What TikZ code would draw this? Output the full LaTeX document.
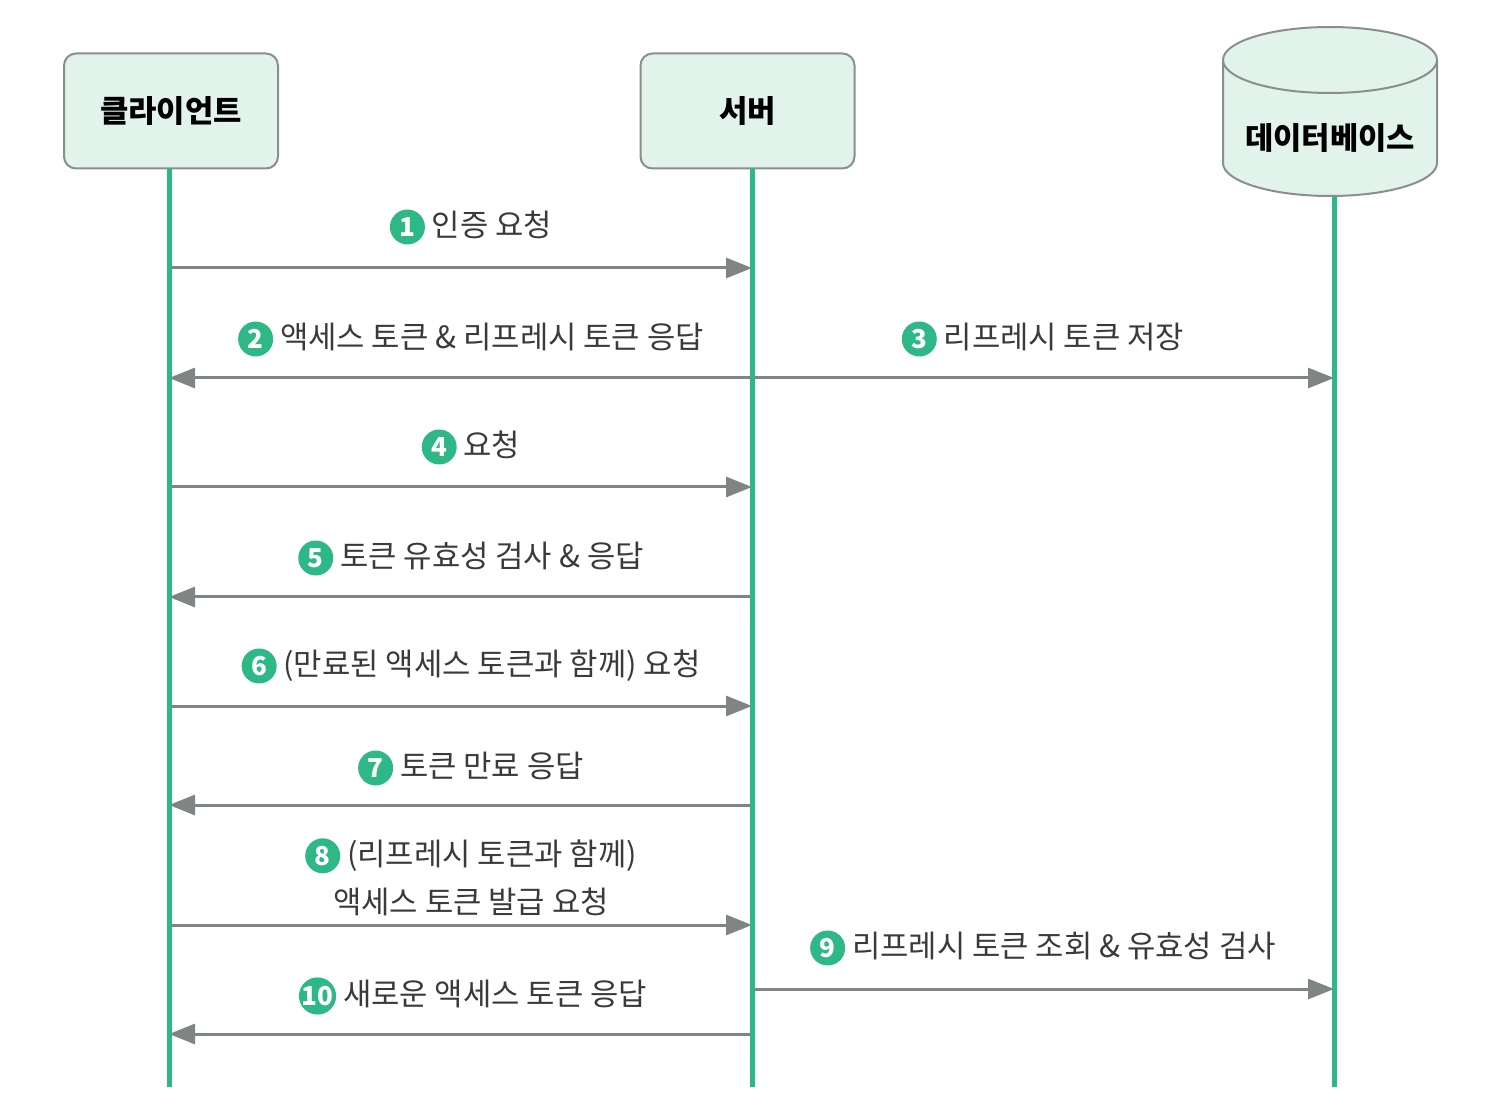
\documentclass[tikz,border=0pt]{standalone}
\usepackage{fontspec}
\setmainfont{Noto Sans CJK KR}
\usetikzlibrary{arrows.meta}

\definecolor{mint}{HTML}{2EB886}
\definecolor{boxfill}{HTML}{E1F3EA}
\definecolor{boxline}{HTML}{8A8F8D}
\definecolor{msggray}{HTML}{7F8583}
\definecolor{txt}{HTML}{3A3A3A}

% numbered green badge
\newcommand{\stepnum}[1]{\tikz[baseline=(n.base)]\node[circle,fill=mint,text=white,inner sep=0pt,minimum size=17.5pt,font=\bfseries\fontsize{13}{13}\selectfont](n){#1};}

\begin{document}
\begin{tikzpicture}[x=0.5pt,y=-0.5pt,
  box/.style={draw=boxline,fill=boxfill,line width=1pt,rounded corners=6pt,
    minimum width=107pt,minimum height=57.5pt,inner sep=0pt,
    font=\bfseries\fontsize{15.4}{15.4}\selectfont},
  life/.style={draw=mint,line width=2.5pt},
  msg/.style={draw=msggray,line width=1.5pt,-{Triangle[length=13pt,width=10pt]}},
  lbl/.style={text=txt,font=\fontsize{15.4}{24}\selectfont,align=center,inner sep=0pt}]
\useasboundingbox (0,0) rectangle (1506,1112);

% Participants
\node[box] (client) at (171,111) {클라이언트};
\node[box] (server) at (747.5,111) {서버};

% Database cylinder
\fill[boxfill] (1223,60) rectangle (1437,163);
\fill[boxfill] (1330,163) ellipse [x radius=107, y radius=33];
\draw[boxline,line width=1pt] (1223,60) -- (1223,163)
  arc[start angle=180, end angle=0, x radius=107, y radius=33] -- (1437,60);
\draw[boxline,line width=1pt,fill=boxfill] (1330,60) ellipse [x radius=107, y radius=33];
\node[font=\bfseries\fontsize{15.4}{15.4}\selectfont] (db) at (1330,138) {데이터베이스};

% Lifeline end points
\coordinate (cl) at (169,168);
\coordinate (cl-end) at (169,1087);
\coordinate (sv) at (752,168);
\coordinate (sv-end) at (752,1087);
\coordinate (dbl) at (1334,196);
\coordinate (dbl-end) at (1334,1087);

% Messages
\draw[msg] (cl |- 0,268) -- (sv |- 0,268);
\node[lbl] (m1) at (471,227) {\stepnum{1} 인증 요청};

\draw[msg] (sv |- 0,378) -- (cl |- 0,378);
\node[lbl] (m2) at (471,339) {\stepnum{2} 액세스 토큰 \& 리프레시 토큰 응답};

\draw[msg] (sv |- 0,378) -- (dbl |- 0,378);
\node[lbl] (m3) at (1043,339) {\stepnum{3} 리프레시 토큰 저장};

\draw[msg] (cl |- 0,487) -- (sv |- 0,487);
\node[lbl] (m4) at (471,447) {\stepnum{4} 요청};

\draw[msg] (sv |- 0,597) -- (cl |- 0,597);
\node[lbl] (m5) at (471,558) {\stepnum{5} 토큰 유효성 검사 \& 응답};

\draw[msg] (cl |- 0,706) -- (sv |- 0,706);
\node[lbl] (m6) at (471,666) {\stepnum{6} (만료된 액세스 토큰과 함께) 요청};

\draw[msg] (sv |- 0,805) -- (cl |- 0,805);
\node[lbl] (m7) at (471,768) {\stepnum{7} 토큰 만료 응답};

\draw[msg] (cl |- 0,925) -- (sv |- 0,925);
\node[lbl] (m8) at (471,877) {\stepnum{8} (리프레시 토큰과 함께)\\액세스 토큰 발급 요청};

\draw[msg] (sv |- 0,989) -- (dbl |- 0,989);
\node[lbl] (m9) at (1043,948) {\stepnum{9} 리프레시 토큰 조회 \& 유효성 검사};

\draw[msg] (sv |- 0,1034) -- (cl |- 0,1034);
\node[lbl] (m10) at (473,996) {\stepnum{10} 새로운 액세스 토큰 응답};

% Lifelines on top of the arrow ends
\draw[life] (cl) -- (cl-end);
\draw[life] (sv) -- (sv-end);
\draw[life] (dbl) -- (dbl-end);

\end{tikzpicture}
\end{document}
